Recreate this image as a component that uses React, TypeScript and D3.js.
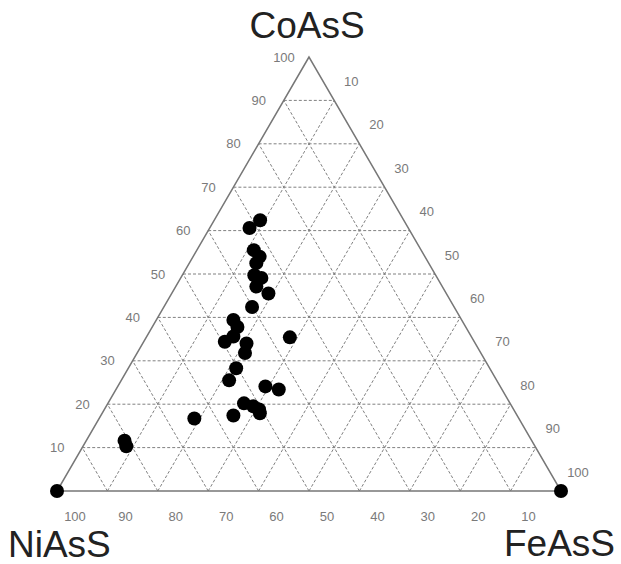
import React from 'react';
import * as d3 from 'd3';

// Mineral compositions (mol %)
const coAsS = [62.4, 60.6, 55.5, 54.0, 52.5, 49.7, 49.1, 47.1, 45.5, 42.4, 39.4, 37.8, 35.6, 34.4, 34.0, 31.8, 35.4, 28.3, 25.5, 24.1, 23.4, 20.2, 19.5, 18.8, 17.9, 17.4, 16.7, 11.6, 10.3, 0, 0];
const feAsS = [9.1, 7.9, 11.3, 13.2, 13.3, 14.3, 16.0, 16.0, 19.2, 17.5, 15.3, 16.9, 17.2, 16.1, 20.6, 21.4, 28.5, 21.4, 21.4, 29.3, 32.3, 27.0, 29.2, 30.7, 31.3, 26.3, 18.9, 7.6, 8.6, 0, 100];
const niAsS = coAsS.map((c, i) => 100 - c - feAsS[i]);

const ticks = [10, 20, 30, 40, 50, 60, 70, 80, 90, 100];
const gridLevels = [10, 20, 30, 40, 50, 60, 70, 80, 90];

const W = 621;
const H = 564;

const App = () => {
    // x runs along the base (Fe + Co/2), y goes up with CoAsS
    const xScale = d3.scaleLinear().domain([0, 100]).range([57, 561]);
    const yScale = d3.scaleLinear().domain([0, 100]).range([491, 57]);

    // ternary -> pixel
    const pt = (co: number, fe: number): [number, number] => [xScale(fe + co / 2), yScale(co)];

    const line = d3.line();
    const outline = line([pt(100, 0), pt(0, 0), pt(0, 100)]) + 'Z';

    const grid: string[] = [];
    gridLevels.forEach((k) => {
        grid.push(line([pt(k, 0), pt(k, 100 - k)]) as string); // constant CoAsS
        grid.push(line([pt(0, k), pt(100 - k, k)]) as string); // constant FeAsS
        grid.push(line([pt(0, 100 - k), pt(100 - k, 0)]) as string); // constant NiAsS
    });

    const labelStyle = { fontFamily: 'Liberation Sans, Arial, sans-serif', fontSize: 13, fill: '#7a7a7a' };
    const titleStyle = { fontFamily: 'Liberation Sans, Arial, sans-serif', fontSize: 37, fill: '#222' };

    return (
        <svg width={W} height={H} style={{ position: 'absolute', left: 0, top: 0, background: '#fff' }}>
            <g fill="none" stroke="#808080" strokeWidth={1} strokeDasharray="3,2">
                {grid.map((d, i) => <path key={i} d={d} />)}
            </g>
            <path d={outline} fill="none" stroke="#777" strokeWidth={1.5} />

            {/* CoAsS ticks on the left edge */}
            {ticks.map((k) => {
                const [x, y] = pt(k, 0);
                return <text key={'c' + k} x={x - 25} y={y + 4.5} textAnchor="middle" style={labelStyle}>{k}</text>;
            })}
            {/* FeAsS ticks on the right edge */}
            {ticks.map((k) => {
                const [x, y] = pt(100 - k, k);
                return <text key={'f' + k} x={x + 17} y={y - 19 + 4.5} textAnchor="middle" style={labelStyle}>{k}</text>;
            })}
            {/* NiAsS ticks on the base */}
            {ticks.map((k) => {
                const [x, y] = pt(0, 100 - k);
                return <text key={'n' + k} x={x + 18} y={y + 30} textAnchor="middle" style={labelStyle}>{k}</text>;
            })}

            <g fill="#000">
                {coAsS.map((c, i) => {
                    const [x, y] = pt(c, feAsS[i]);
                    return <circle key={i} cx={x} cy={y} r={7} data-ni={niAsS[i]} />;
                })}
            </g>

            <text x={307} y={38} textAnchor="middle" style={titleStyle}>CoAsS</text>
            <text x={8} y={557} textAnchor="start" style={titleStyle}>NiAsS</text>
            <text x={615} y={556} textAnchor="end" style={titleStyle}>FeAsS</text>
        </svg>
    );
};

export default App;
